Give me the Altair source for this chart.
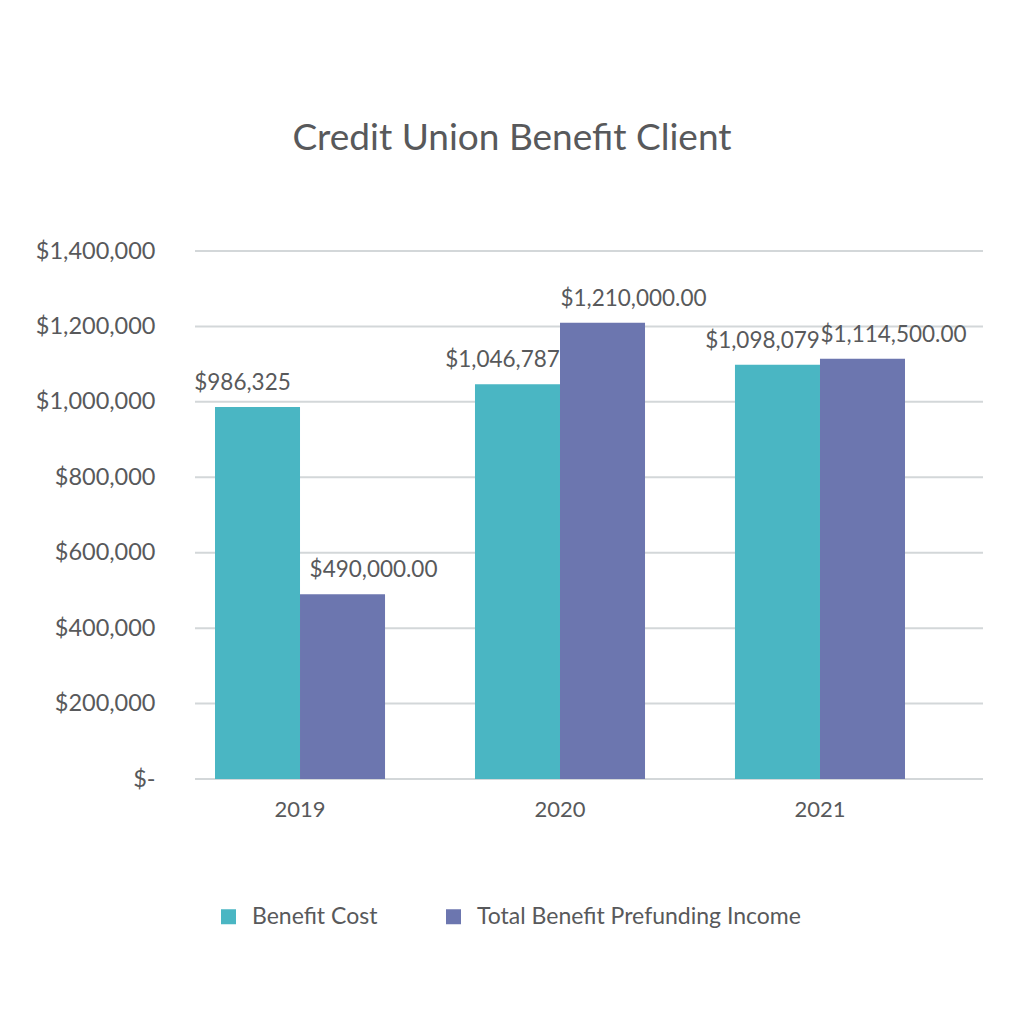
import altair as alt
import pandas as pd

years = ["2019", "2020", "2021"]
series = ["Benefit Cost", "Total Benefit Prefunding Income"]
benefit_cost = [986325, 1046787, 1098079]
prefunding = [490000, 1210000, 1114500]
cost_labels = ["$986,325", "$1,046,787", "$1,098,079"]
pref_labels = ["$490,000.00", "$1,210,000.00", "$1,114,500.00"]
colors = ["#4AB6C3", "#6C76AF"]
title_text = "Credit Union Benefit Client"
y_ticks = [0, 200000, 400000, 600000, 800000, 1000000, 1200000, 1400000]

rows = []
for i, y in enumerate(years):
    rows.append({"year": y, "series": series[0], "value": benefit_cost[i], "label": cost_labels[i]})
    rows.append({"year": y, "series": series[1], "value": prefunding[i], "label": pref_labels[i]})
df = pd.DataFrame(rows)
grid_df = pd.DataFrame({"value": y_ticks})

FONT = "Lato"
GRAY = "#58595b"

xscale = alt.Scale(domain=years, range=[20, 710], paddingInner=0.346, paddingOuter=0)
yscale = alt.Scale(domain=[0, 1400000], nice=False)

x = alt.X("year:N", title=None, sort=years, scale=xscale,
          axis=alt.Axis(labelAngle=0, domain=False, ticks=False, labelPadding=20,
                        labelFontSize=22, labelColor=GRAY, labelFont=FONT))
xo = alt.XOffset("series:N", sort=series, scale=alt.Scale(paddingInner=0, paddingOuter=0))
y = alt.Y("value:Q", title=None, scale=yscale,
          axis=alt.Axis(values=y_ticks,
                        labelExpr="datum.value == 0 ? '$-' : '$' + format(datum.value, ',')",
                        domain=False, ticks=False, grid=False, labelPadding=40,
                        labelFontSize=23.5, labelColor=GRAY, labelFont=FONT))

grid = alt.Chart(grid_df).mark_rule(color="#d3d7d9", strokeWidth=2).encode(
    x=alt.value(0), x2=alt.value(788), y=alt.Y("value:Q", scale=yscale)
)

bars = alt.Chart(df).mark_bar().encode(
    x=x, xOffset=xo, y=y,
    color=alt.Color("series:N", sort=series, title=None,
                    scale=alt.Scale(domain=series, range=colors),
                    legend=alt.Legend(orient="none", legendX=22, legendY=654, direction="horizontal",
                                      symbolType="square", symbolSize=225, symbolStrokeWidth=0,
                                      labelFontSize=23, labelColor=GRAY, labelFont=FONT,
                                      labelOffset=12, columnPadding=64, labelLimit=500)),
)

def label_layer(name, dx):
    return alt.Chart(df).transform_filter(alt.datum.series == name).mark_text(
        baseline="bottom", dy=-12, dx=dx, fontSize=22.5, color=GRAY, font=FONT
    ).encode(
        x=alt.X("year:N", sort=years, scale=xscale),
        xOffset=alt.XOffset("series:N", sort=series, scale=alt.Scale(domain=series, paddingInner=0, paddingOuter=0)),
        y=alt.Y("value:Q", scale=yscale),
        text="label:N",
    )

cost_text = label_layer(series[0], -15)
pref_text = label_layer(series[1], 31)

title = alt.Chart(pd.DataFrame({"t": [title_text]})).mark_text(
    fontSize=37, color=GRAY, font=FONT, baseline="middle", align="center"
).encode(x=alt.value(317), y=alt.value(-112), text="t:N")

chart = alt.layer(grid, bars, cost_text, pref_text, title).properties(
    width=788, height=528,
    autosize=alt.AutoSizeParams(type="none"),
    padding={"left": 195, "top": 251, "right": 41, "bottom": 245},
    background="white",
).configure_view(stroke=None)

chart.save("out.html", embed_options={"renderer": "svg", "actions": False})
